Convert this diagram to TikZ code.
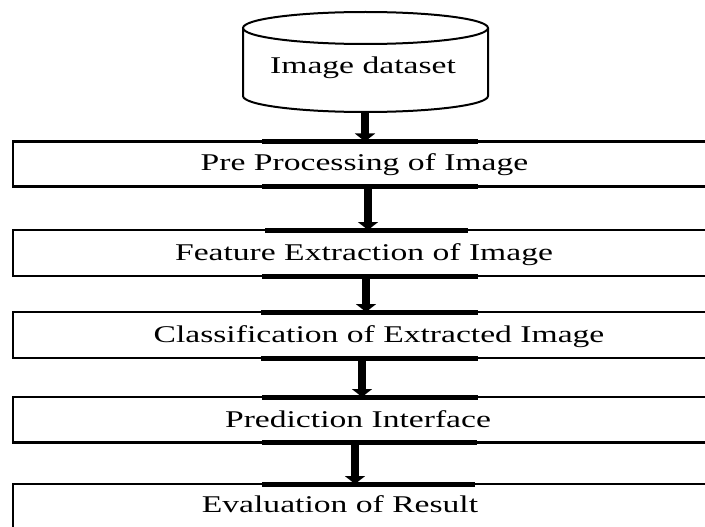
\documentclass[tikz,border=0pt]{standalone}
\usepackage{fontspec}
\setmainfont{Liberation Serif}
\newfontfamily\stretchserif[FakeStretch=1.4]{Liberation Serif}
\usetikzlibrary{arrows.meta}
\begin{document}
\begin{tikzpicture}[x=1pt,y=-1pt,
  stagebox/.style={draw, line width=2.2pt, minimum width=720pt, anchor=north west, inner sep=0pt, outer sep=0pt},
  lbl/.style={font=\stretchserif\fontsize{24}{28}\selectfont, anchor=base, inner sep=0pt},
  bar/.style={line width=5pt},
  flow/.style={line width=8pt, -{Triangle[width=20pt,length=8pt]}},
  cylline/.style={line width=2pt}
]
\useasboundingbox (0,0) rectangle (705,527);
\clip (0,0) rectangle (705,527);
\fill[white] (0,0) rectangle (705,527);

% database cylinder
\draw[cylline] (243,28) -- (243,96) arc[start angle=180, end angle=0, x radius=122.5, y radius=16] -- (488,28);
\draw[cylline] (365.5,28) ellipse[x radius=122.5, y radius=16];
\node[lbl] (cyl) at (363,74) {Image dataset};
\coordinate (cylbase) at (365,112);

% stage boxes
\node[stagebox, minimum height=45pt] (b1) at (13,141.5) {};
\node[stagebox, minimum height=46pt] (b2) at (13,230) {};
\node[stagebox, minimum height=46pt] (b3) at (13,312) {};
\node[stagebox, minimum height=45.5pt] (b4) at (13,397) {};
\node[stagebox, minimum height=70pt] (b5) at (13,484) {};

% thick bars along box edges
\draw[bar] (262,141.5) -- (478,141.5);
\draw[bar] (262,186.5) -- (478,186.5);
\draw[bar] (265,230) -- (468,230);
\draw[bar] (262,276) -- (478,276);
\draw[bar] (261,312) -- (478,312);
\draw[bar] (261,358) -- (478,358);
\draw[bar] (262,397) -- (478,397);
\draw[bar] (262,442.5) -- (477,442.5);
\draw[bar] (262,484) -- (475,484);

% labels
\node[lbl] (t1) at (364.5,171) {Pre Processing of Image};
\node[lbl] (t2) at (364,260.5) {Feature Extraction of Image};
\node[lbl] (t3) at (379,342.5) {Classification of Extracted Image};
\node[lbl] (t4) at (358,427) {Prediction Interface};
\node[lbl] (t5) at (340,512) {Evaluation of Result};

% arrow columns
\coordinate (x2) at (368,0);
\coordinate (x3) at (366,0);
\coordinate (x4) at (362,0);
\coordinate (x5) at (355,0);

% connectors
\draw[flow] (cylbase) -- (cylbase |- b1.north);
\draw[flow] (b1.south -| x2) -- (b2.north -| x2);
\draw[flow] (b2.south -| x3) -- (b3.north -| x3);
\draw[flow] (b3.south -| x4) -- (b4.north -| x4);
\draw[flow] (b4.south -| x5) -- (b5.north -| x5);
\end{tikzpicture}
\end{document}
